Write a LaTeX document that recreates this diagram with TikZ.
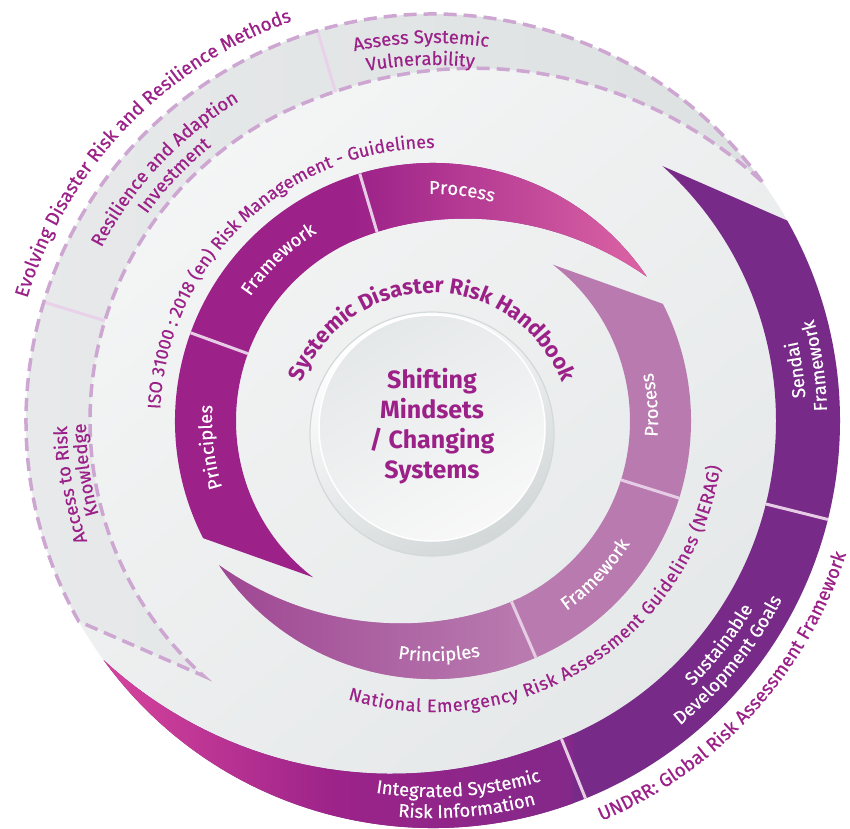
\documentclass[tikz,border=0pt]{standalone}
\usepackage{fontspec}
\setmainfont{Fira Sans}
\newfontfamily\labelfam{Fira Sans}[FakeBold=0.5]
\usetikzlibrary{decorations.text}

\definecolor{sdmag}{HTML}{9B2188}
\definecolor{sddash}{HTML}{CDA6D1}
\definecolor{sdgraydiv}{HTML}{E9D2E9}
\definecolor{sdbanddiv}{HTML}{E6CCE4}
\definecolor{sdbgA}{HTML}{F5F6F6}
\definecolor{sdbgB}{HTML}{E4E7E8}
\definecolor{sdgreyA}{HTML}{E7E9EA}
\definecolor{sdgreyB}{HTML}{DCE0E1}
\definecolor{sdpurple}{HTML}{782A88}
\definecolor{sdpink}{HTML}{D8449D}
\definecolor{sdmid}{HTML}{9C2389}
\definecolor{sdpurpleB}{HTML}{83288A}
\definecolor{sddark}{HTML}{9C2189}
\definecolor{sdrose}{HTML}{DC64A4}
\definecolor{sdlight}{HTML}{B87AAF}
\definecolor{sdlightB}{HTML}{9E4692}
\definecolor{sdrim}{HTML}{D2D7D8}
\definecolor{sdrimline}{HTML}{D3D8D9}
\definecolor{sdfaceA}{HTML}{E5E8E9}
\definecolor{sdfaceB}{HTML}{F8F8F8}

\newcommand{\bandfont}{\labelfam\fontsize{18.5}{21}\selectfont}
\newcommand{\guidefont}{\labelfam\fontsize{18}{21}\selectfont}
\newcommand{\outerfont}{\labelfam\fontsize{19}{22}\selectfont}
\newcommand{\hbfont}{\fontsize{22}{26}\selectfont\bfseries}

% spiral bands, #1 = turn
\newcommand{\ringApath}[1]{({36+#1}:407) arc[start angle={36+#1}, end angle={209.5+#1}, radius=407]
  -- ({228+#1}:343) arc[start angle={228+#1}, end angle={112+#1}, radius=343]
  -- plot[domain=0.001:1, samples=40] ({112+#1-76*\x}:{343+64*pow(\x,1.7)})
  -- cycle}
\newcommand{\ringCpath}[1]{({34+#1}:258) arc[start angle={34+#1}, end angle={207+#1}, radius=258]
  -- ({232.5+#1}:197) arc[start angle={232.5+#1}, end angle={112+#1}, radius=197]
  -- plot[domain=0.001:1, samples=40] ({112+#1-78*\x}:{197+61*pow(\x,2.2)})
  -- cycle}

% curved labels: #1 format, #2 centre angle, #3 baseline radius, #4 text
\newcommand{\arclabelcw}[4]{\path[decorate, decoration={text along path, text align=center, text={|#1|#4}}]
  ({#2+80}:#3) arc[start angle={#2+80}, end angle={#2-80}, radius=#3];}
\newcommand{\arclabelccw}[4]{\path[decorate, decoration={text along path, text align=center, text={|#1|#4}}]
  ({#2-80}:#3) arc[start angle={#2-80}, end angle={#2+80}, radius=#3];}

\begin{document}
\begin{tikzpicture}[x=1pt, y=1pt,
  dashband/.style={draw=sddash, line width=3.5pt, dash pattern=on 13pt off 7pt},
  graydiv/.style={draw=sdgraydiv, line width=3pt},
  banddiv/.style={draw=sdbanddiv, line width=3pt},
  mindtext/.style={text=sdmag, font=\fontsize{25}{30}\selectfont\bfseries, align=center}]

\useasboundingbox (-433,-407) rectangle (417,421);
\fill[white] (-433,-407) rectangle (417,421);

% Background disc
\shade[top color=sdbgA, bottom color=sdbgB, shading angle=40] (0,0) circle[radius=407];

% Outer ring: grey dashed band
\begin{scope}
  \clip \ringApath{0};
  \shade[left color=sdgreyA, right color=sdgreyB] (-410,-260) rectangle (410,410);
\end{scope}
\foreach \a in {106.5, 163} \draw[graydiv] (\a:343) -- (\a:407);
\draw[dashband] \ringApath{0};

% Outer ring: purple band
\fill[sdpurple] \ringApath{180};
\begin{scope}
  \clip \ringApath{180};
  \shade[left color=sdpink, right color=sdpurpleB, middle color=sdmid] (-335,-410) rectangle (140,-120);
\end{scope}
\foreach \a in {292, 346} \draw[banddiv] (\a:343) -- (\a:407);

% Middle ring: dark band
\fill[sddark] \ringCpath{0};
\begin{scope}
  \clip \ringCpath{0};
  \shade[left color=sddark, right color=sdrose] (-80,0) rectangle (215,265);
\end{scope}
\foreach \a in {106.5, 160} \draw[banddiv] (\a:197) -- (\a:258);

% Middle ring: light band
\fill[sdlight] \ringCpath{180};
\begin{scope}
  \clip \ringCpath{180};
  \shade[left color=sdlightB, right color=sdlight] (-220,-270) rectangle (85,0);
\end{scope}
\foreach \a in {293.5, 342.6} \draw[banddiv] (\a:197) -- (\a:258);

% Centre disc
\shade[top color=white, bottom color=sdrim, shading angle=30] (-1,-13) circle[radius=122];
\draw[sdrimline, line width=1.2pt] (-1,-13) circle[radius=122];
\shade[top color=sdfaceA, bottom color=sdfaceB, shading angle=30] (-1,-7) circle[radius=113];
\draw[white, line width=1.5pt] (-1,-7) circle[radius=113];
\node[mindtext] (mindset) at (-1,-5) {Shifting\\Mindsets\\/ Changing\\Systems};

% Handbook title
\begin{scope}[shift={(-1,-11)}]
  \arclabelcw{\hbfont\color{sdmag}}{90}{139}{Systemic Disaster Risk Handbook}
\end{scope}

% Middle ring labels
\arclabelcw{\bandfont\color{white}}{82.8}{227}{Process}
\arclabelcw{\bandfont\color{white}}{133.7}{221}{Framework}
\arclabelcw{\bandfont\color{white}}{186.7}{221}{Principles}
\arclabelccw{\bandfont\color{white}}{4.2}{225}{Process}
\arclabelccw{\bandfont\color{white}}{316.6}{232}{Framework}
\arclabelccw{\bandfont\color{white}}{271.5}{240}{Principles}

% Guideline labels
\arclabelcw{\guidefont\color{sdmag}}{133.6}{273}{ISO 31000 : 2018 (en) Risk Management - Guidelines}
\path[decorate, decoration={text along path, text align=fit to path,
  text={|\guidefont\color{sdmag}|National Emergency Risk Assessment Guidelines (NERAG)}}]
  (253:291) arc[start angle=253, end angle=351, radius=291];

% Grey band labels
\arclabelcw{\bandfont\color{sdmag}}{136.8}{374}{Resilience and Adaption}
\arclabelcw{\bandfont\color{sdmag}}{136.5}{353}{Investment}
\arclabelcw{\bandfont\color{sdmag}}{91.8}{378}{Assess Systemic}
\arclabelcw{\bandfont\color{sdmag}}{92}{356}{Vulnerability}
\arclabelcw{\bandfont\color{sdmag}}{190}{366}{Access to Risk}
\arclabelcw{\bandfont\color{sdmag}}{188}{347}{Knowledge}

% Purple band labels
\arclabelccw{\bandfont\color{white}}{274}{376}{Integrated Systemic}
\arclabelccw{\bandfont\color{white}}{275}{397}{Risk Information}
\arclabelccw{\bandfont\color{white}}{322}{371}{Sustainable}
\arclabelccw{\bandfont\color{white}}{321}{392}{Development Goals}
\arclabelccw{\bandfont\color{white}}{8}{373}{Sendai}
\arclabelccw{\bandfont\color{white}}{8.2}{394}{Framework}

% Outer labels
\arclabelcw{\outerfont\color{sdmag}}{136.3}{424}{Evolving Disaster Risk and Resilience Methods}
\arclabelccw{\outerfont\color{sdmag}}{317.5}{434}{UNDRR:  Global Risk Assessment Framework}
\end{tikzpicture}
\end{document}
